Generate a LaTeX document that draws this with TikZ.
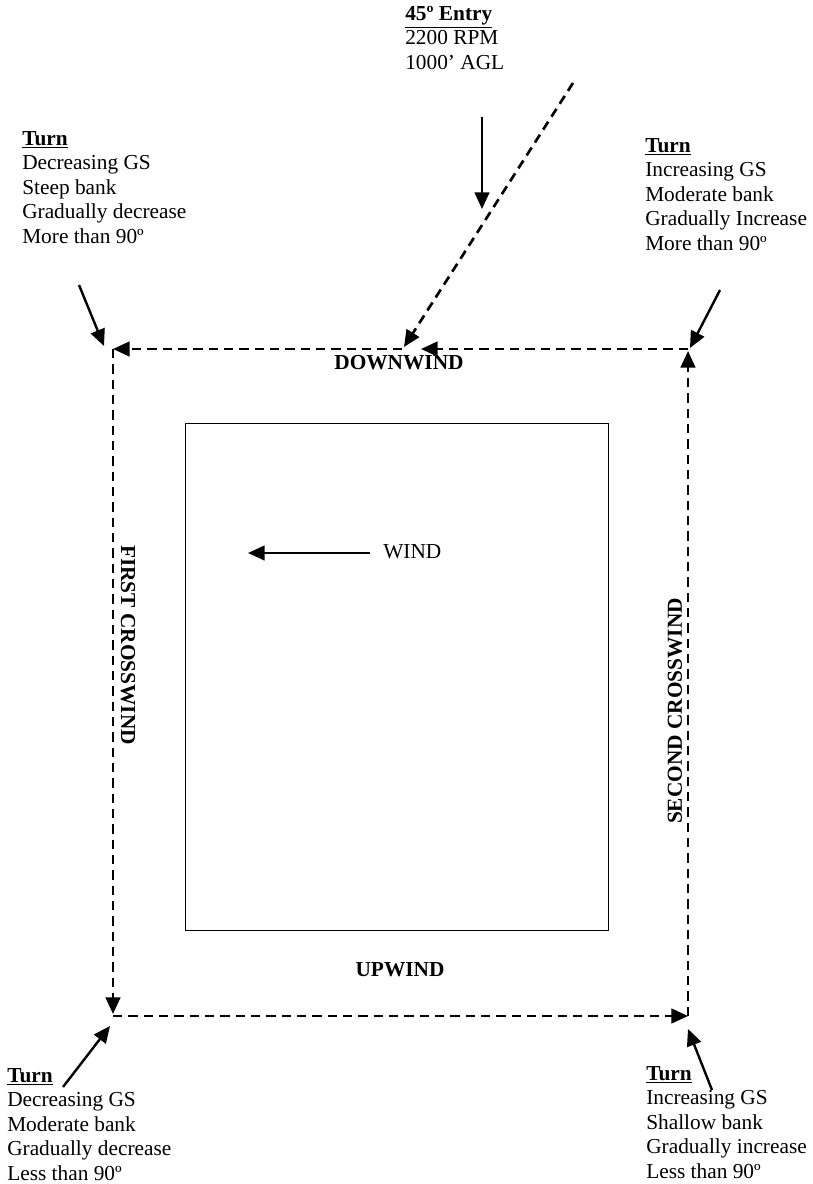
\documentclass[tikz,border=0pt]{standalone}
\usepackage{fontspec}
\setmainfont{Liberation Serif}
\usetikzlibrary{arrows.meta}
\begin{document}
\begin{tikzpicture}[x=0.75pt,y=-0.75pt,
  txt/.style={anchor=north west,inner sep=0pt,align=left,font=\fontsize{16}{18.4}\selectfont},
  lbl/.style={inner sep=0pt,font=\fontsize{16}{18.4}\selectfont\bfseries},
  path/.style={line width=2pt,dash pattern=on 7pt off 4.5pt,-{Triangle[length=12.5pt,width=11pt]}},
  solidarrow/.style={line width=1.8pt,-{Triangle[length=12.5pt,width=11pt]}},
  field/.style={draw,line width=0.9pt}]
\useasboundingbox (0,0) rectangle (813,1184);
% corners of pattern
\coordinate (TL) at (113,349);
\coordinate (TR) at (688,349);
\coordinate (BL) at (113,1016);
\coordinate (BR) at (688,1016);
\coordinate (TRup) at (688,351);
\coordinate (BLdn) at (113,1014);
\coordinate (Dmid) at (421,349);
\coordinate (Dleft) at (402,349);
\coordinate (Etip) at (404,347);
\coordinate (Etail) at (573,83);
% inner rectangle
\node[field,minimum width=423*0.75pt,minimum height=507*0.75pt,inner sep=0pt,anchor=north west] (runway) at (185,423) {};
% pattern legs
\draw[path] (TR) -- (Dmid);
\draw[path] (Dleft) -- (TL);
\draw[path] (TL) -- (BLdn);
\draw[path] (BL) -- (BR);
\draw[path] (BR) -- (TRup);
\draw[path] (Etail) -- (Etip);
% entry text
\node[txt] (entry) at (405,6) {\textbf{\underline{45º Entry}}\\2200 RPM\\1000’ AGL};
\coordinate (entryA) at (482,117);
\coordinate (entryB) at (482,209);
\draw[solidarrow] (entryA) -- (entryB);
% turn texts
\node[txt] (tl) at (22,131) {\textbf{\underline{Turn}}\\Decreasing GS\\Steep bank\\Gradually decrease\\More than 90º};
\node[txt] (tr) at (645,138) {\textbf{\underline{Turn}}\\Increasing GS\\Moderate bank\\Gradually Increase\\More than 90º};
\node[txt] (bl) at (7,1068) {\textbf{\underline{Turn}}\\Decreasing GS\\Moderate bank\\Gradually decrease\\Less than 90º};
\node[txt] (br) at (646,1066) {\textbf{\underline{Turn}}\\Increasing GS\\Shallow bank\\Gradually increase\\Less than 90º};
% turn arrows
\coordinate (tlA) at (79,285);  \coordinate (tlB) at (104,346);
\coordinate (trA) at (720,290); \coordinate (trB) at (690,348);
\coordinate (blA) at (63,1087); \coordinate (blB) at (110,1026);
\coordinate (brA) at (712,1090);\coordinate (brB) at (688,1029);
\draw[solidarrow] (tlA) -- (tlB);
\draw[solidarrow] (trA) -- (trB);
\draw[solidarrow] (blA) -- (blB);
\draw[solidarrow] (brA) -- (brB);
% leg labels
\node[lbl] (down) at (399,363) {DOWNWIND};
\node[lbl] (up) at (400,970) {UPWIND};
\node[lbl,rotate=-90] (first) at (128,645) {FIRST CROSSWIND};
\node[lbl,rotate=90] (second) at (675,711) {SECOND CROSSWIND};
% wind
\node[inner sep=0pt,anchor=west,font=\fontsize{16}{18.4}\selectfont] (wind) at (383,552) {WIND};
\coordinate (windTail) at (370,553);
\coordinate (windTip) at (248,553);
\draw[solidarrow] (windTail) -- (windTip);
\end{tikzpicture}
\end{document}
